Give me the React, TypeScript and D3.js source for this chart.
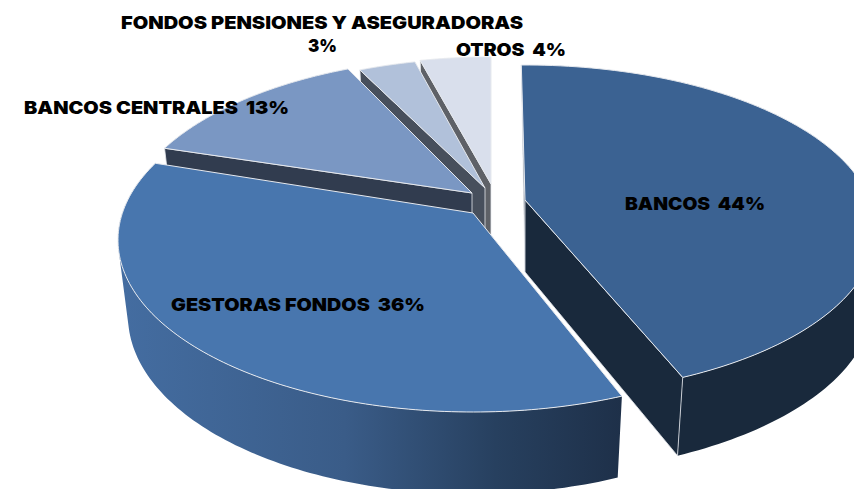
import React from "react";
import * as d3 from "d3";

const categories = ["BANCOS", "GESTORAS FONDOS", "BANCOS CENTRALES", "FONDOS PENSIONES Y ASEGURADORAS", "OTROS"];
const shares = [44, 36, 13, 3, 4];
const topColors = ["#3b6292", "#4876ae", "#7a97c3", "#b1c1da", "#d9dfec"];
const wallColors = ["#19293c", "url(#wallGrad)", "#313c4f", "#474f5c", "#5e6167"];
// Exploded layout of each slice: wedge tip, top ellipse, bottom ellipse
const apexX = [525, 473, 472, 485, 491];
const apexY = [200, 213, 193, 188, 184];
const topCx = [525, 473, 478, 490, 491];
const topCy = [230, 240, 229, 230, 229];
const topRx = [351, 355, 355, 355, 355];
const topRy = [165, 172, 172, 172, 172];
const botCx = [518, 473, 478, 490, 491];
const botCy = [302, 316, 305, 306, 305];
const botRx = [355, 345, 345, 345, 345];
const botRy = [172, 178, 178, 178, 178];
// Perspective warp: picture angle (degrees) of each slice's two edges
const viewStart = [-0.6, 155.2, 298, 338.5, 348.5];
const viewEnd = [153.3, 296.5, 338.5, 347.8, 360];
const paintOrder = [4, 3, 2, 0, 1];

const APEX_DROP = 72;
const NB = "\u00a0\u00a0";
const stroke = "#e6e9ee";
const line = d3.line();

function Label({ x, y, w, children }: { x: number; y: number; w: number; children: string }) {
  return (
    <text x={x} y={y} textAnchor="middle" textLength={w} lengthAdjust="spacingAndGlyphs">
      {children}
    </text>
  );
}

export default function App() {
  const arcs = d3.pie<number>().sort(null)(shares);
  return (
    <svg width={854} height={489} style={{ position: "absolute", left: 0, top: 0 }}>
      <defs>
        <linearGradient id="wallGrad" gradientUnits="userSpaceOnUse" x1={118} x2={622} y1={0} y2={0}>
          <stop offset="0" stopColor="#446da1" />
          <stop offset="0.45" stopColor="#3a5c88" />
          <stop offset="0.75" stopColor="#27405f" />
          <stop offset="1" stopColor="#1e3049" />
        </linearGradient>
      </defs>
      {paintOrder.map((i) => {
        const { startAngle: s, endAngle: e } = arcs[i];
        const warp = d3.scaleLinear<number>().domain([s, e]).range([(viewStart[i] * Math.PI) / 180, (viewEnd[i] * Math.PI) / 180]);
        const top = (a: number): [number, number] => [topCx[i] + topRx[i] * Math.sin(warp(a)), topCy[i] - topRy[i] * Math.cos(warp(a))];
        const bottom = (a: number): [number, number] => [botCx[i] + botRx[i] * Math.sin(warp(a)), botCy[i] - botRy[i] * Math.cos(warp(a))];
        const steps = d3.range(0, 121).map((t) => s + ((e - s) * t) / 120);
        const topArc = steps.map(top);
        const apex: [number, number] = [apexX[i], apexY[i]];
        const apexB: [number, number] = [apexX[i], apexY[i] + APEX_DROP];
        const facesFront = s < Math.PI * 1.5 && e > Math.PI / 2;
        const drawStart = s === 0 || s > Math.PI;
        const drawEnd = e < Math.PI;
        const wall = (pts: [number, number][]) => (
          <path d={line(pts as any) + "Z"} fill={wallColors[i]} stroke={stroke} strokeWidth={0.8} />
        );
        const inFront = (a: number) => {
          const t = warp(a);
          return t >= (80 * Math.PI) / 180 && t <= (280 * Math.PI) / 180;
        };
        const side = steps
          .slice(1)
          .map((a, k) => {
            if (!inFront(a) || !inFront(steps[k])) return "";
            const quad = [top(steps[k]), top(a), bottom(a), bottom(steps[k])];
            if (d3.polygonArea(quad as any) < 0) quad.reverse();
            return line(quad as any) + "Z";
          })
          .join("");
        return (
          <g key={i} strokeLinejoin="round">
            {drawStart && wall(s === 0 ? [apex, top(s), apexB] : [apex, top(s), bottom(s), apexB])}
            {facesFront && <path d={side} fill={wallColors[i]} fillRule="nonzero" />}
            {drawEnd && wall([apex, top(e), bottom(e), apexB])}
            <path d={line([apex, ...topArc] as any) + "Z"} fill={topColors[i]} stroke={stroke} strokeWidth={1} />
          </g>
        );
      })}
      <g fontFamily="Inter" fontWeight={900} fontSize={18} fill="#000">
        <Label x={695} y={210} w={140}>{`${categories[0]}${NB}${shares[0]}%`}</Label>
        <Label x={298} y={311} w={254}>{`${categories[1]}${NB}${shares[1]}%`}</Label>
        <Label x={156.5} y={114} w={265}>{`${categories[2]}${NB}${shares[2]}%`}</Label>
        <Label x={322} y={29} w={402}>{categories[3]}</Label>
        <Label x={322.5} y={52} w={29}>{`${shares[3]}%`}</Label>
        <Label x={511} y={56} w={110}>{`${categories[4]}${NB}${shares[4]}%`}</Label>
      </g>
    </svg>
  );
}
